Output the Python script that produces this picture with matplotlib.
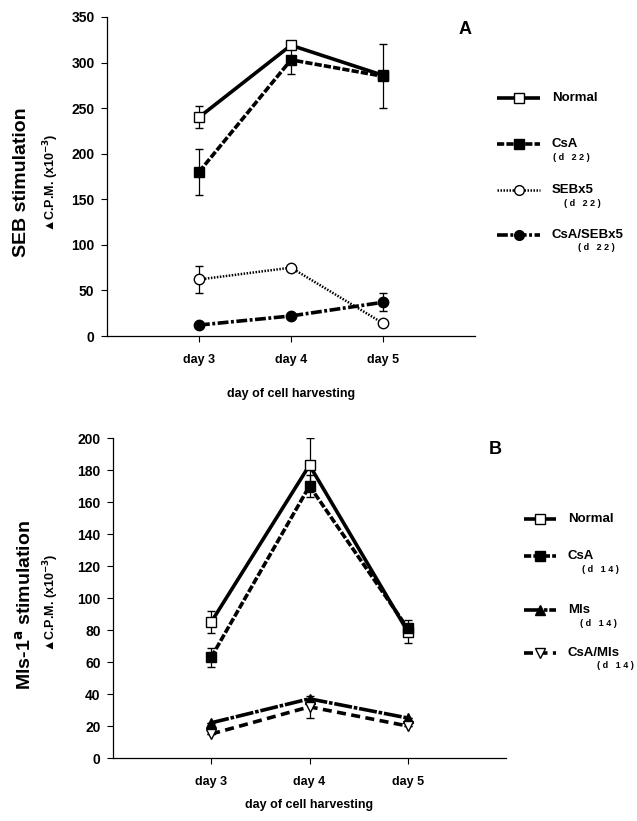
import numpy as np
import matplotlib
matplotlib.use("Agg")
import matplotlib.pyplot as plt
from matplotlib.lines import Line2D

plt.rcParams['font.family'] = ['Liberation Sans', 'DejaVu Sans']
plt.rcParams['font.weight'] = 'bold'
plt.rcParams['mathtext.default'] = 'bf'

# x positions / labels
days = [3, 4, 5]
day_labels = ['day 3', 'day 4', 'day 5']

# Panel A: SEB stimulation
seb_normal = [240, 319, 286]
seb_normal_err = [12, 3, 0]
seb_csa = [180, 303, 285]
seb_csa_err = [25, 16, 35]
seb_sebx5 = [62, 75, 14]
seb_sebx5_err = [15, 0, 0]
seb_csa_sebx5 = [12, 22, 37]
seb_csa_sebx5_err = [0, 0, 10]

# Panel B: Mls-1a stimulation
mls_normal = [85, 183, 79]
mls_normal_err = [7, 17, 7]
mls_csa = [63, 170, 81]
mls_csa_err = [6, 7, 0]
mls_mls = [22, 37, 25]
mls_mls_err = [0, 0, 0]
mls_csa_mls = [15, 32, 20]
mls_csa_mls_err = [0, 7, 0]

W, H = 637, 821
fig = plt.figure(figsize=(W / 100, H / 100), dpi=100)

def px_axes(x0, y0, x1, y1):
    return fig.add_axes([x0 / W, 1 - y1 / H, (x1 - x0) / W, (y1 - y0) / H])

# styles (marker, marker face, dash pattern)
st_normal = dict(marker='s', mfc='white', dashes=(1, 0))
st_csa = dict(marker='s', mfc='black', dashes=(2.0, 0.6))
st_dot = dict(marker='o', mfc='white', dashes=(0.6, 0.6))
st_dashdot = dict(marker='o', mfc='black', dashes=(3.0, 0.7, 0.8, 0.7))
st_tri = dict(marker='^', mfc='black', dashes=(5.0, 0.5, 1.0, 0.5))
st_dtri = dict(marker='v', mfc='white', dashes=(2.5, 1.5))

def draw_series(ax, y, err, st, lw=2.6, ms=7.5):
    ax.errorbar(days, y, yerr=err, color='black', lw=lw, marker=st['marker'],
                mfc=st['mfc'], mec='black', mew=1.0, ms=ms,
                ecolor='black', elinewidth=0.9, capsize=3, capthick=0.9,
                dashes=st['dashes'])

def style_axes(ax, ymax, ystep, xlab_pad):
    ax.set_xlim(2, 6)
    ax.set_ylim(0, ymax)
    ax.set_xticks(days)
    ax.set_xticklabels(day_labels, fontsize=9, fontweight='bold')
    ax.set_yticks(np.arange(0, ymax + 1, ystep))
    ax.tick_params(axis='y', labelsize=10, length=4, width=0.8, direction='out', pad=5)
    ax.tick_params(axis='x', length=4, width=0.8, direction='out', pad=9)
    for lab in ax.get_yticklabels():
        lab.set_fontweight('bold')
    ax.spines['top'].set_visible(False)
    ax.spines['right'].set_visible(False)
    ax.spines['left'].set_linewidth(0.9)
    ax.spines['bottom'].set_linewidth(0.9)
    ax.set_xlabel('day of cell harvesting', fontsize=9, fontweight='bold', labelpad=xlab_pad)

# ---- Panel A ----
axA = px_axes(107, 17, 475, 336)
draw_series(axA, seb_normal, seb_normal_err, st_normal)
draw_series(axA, seb_csa, seb_csa_err, st_csa)
draw_series(axA, seb_sebx5, seb_sebx5_err, st_dot, lw=1.8)
draw_series(axA, seb_csa_sebx5, seb_csa_sebx5_err, st_dashdot)
style_axes(axA, 350, 50, 16)
fig.text(22 / W, 1 - 182 / H, 'SEB stimulation', rotation=90, fontsize=14,
         fontweight='bold', ha='center', va='center')
fig.text(51 / W, 1 - 183 / H, '\u25b2C.P.M. (x10$^{-3}$)', rotation=90,
         fontsize=9, fontweight='bold', ha='center', va='center')
fig.text(465 / W, 1 - 30 / H, 'A', fontsize=13, fontweight='bold', ha='center', va='center')

# ---- Panel B ----
axB = px_axes(113, 438, 506, 758)
draw_series(axB, mls_normal, mls_normal_err, st_normal)
draw_series(axB, mls_csa, mls_csa_err, st_csa)
draw_series(axB, mls_mls, mls_mls_err, st_tri)
draw_series(axB, mls_csa_mls, mls_csa_mls_err, st_dtri)
style_axes(axB, 200, 20, 8)
fig.text(25 / W, 1 - 605 / H, 'Mls-1$^{a}$ stimulation', rotation=90, fontsize=14,
         fontweight='bold', ha='center', va='center')
fig.text(51 / W, 1 - 603 / H, '\u25b2C.P.M. (x10$^{-3}$)', rotation=90,
         fontsize=9, fontweight='bold', ha='center', va='center')
fig.text(495 / W, 1 - 449 / H, 'B', fontsize=13, fontweight='bold', ha='center', va='center')

# ---- legends drawn on an overlay in pixel coordinates ----
ov = fig.add_axes([0, 0, 1, 1])
ov.set_xlim(0, W)
ov.set_ylim(H, 0)
ov.axis('off')

def legend_entry(x0, x1, y, st, label, sub=None, sub_x=None, lw=2.6):
    ov.add_line(Line2D([x0, x1], [y, y], color='black', lw=lw, dashes=st['dashes']))
    ov.plot([(x0 + x1) / 2], [y], marker=st['marker'], mfc=st['mfc'], mec='black',
            ms=7, mew=1.0, color='black', ls='none')
    ov.text(x1 + 12, y, label, fontsize=9.5, fontweight='bold', va='center', ha='left')
    if sub:
        ov.text(sub_x, y + 13, sub, fontsize=6.5, fontweight='bold', va='center', ha='center')

legend_entry(497, 540, 98, st_normal, 'Normal')
legend_entry(497, 540, 144, st_csa, 'CsA', '( d   2 2 )', 571)
legend_entry(497, 540, 190, st_dot, 'SEBx5', '( d   2 2 )', 582, lw=1.8)
legend_entry(497, 540, 235, st_dashdot, 'CsA/SEBx5', '( d   2 2 )', 596)

legend_entry(524, 556, 519, st_normal, 'Normal')
legend_entry(524, 556, 556, st_csa, 'CsA', '( d   1 4 )', 600)
legend_entry(524, 556, 610, st_tri, 'Mls', '( d   1 4 )', 598)
legend_entry(524, 556, 653, st_dtri, 'CsA/Mls', '( d   1 4 )', 615)

fig.savefig('out.png', dpi=100)
